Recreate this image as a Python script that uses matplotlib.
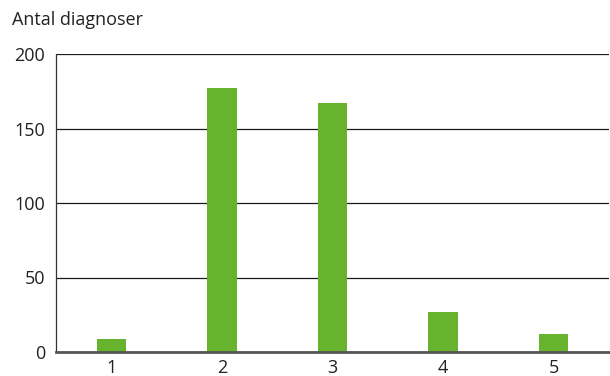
import matplotlib
matplotlib.use("Agg")
from matplotlib import pyplot as plt
import numpy as np

categories = ['1', '2', '3', '4', '5']
diagnoser = [9, 177, 167, 27, 12]
y_ticks = [0, 50, 100, 150, 200]

plt.rcParams['font.family'] = ['Open Sans', 'DejaVu Sans']

fig = plt.figure(figsize=(6.10, 3.76), dpi=100)
ax = fig.add_axes([56 / 610, 24 / 376, 553 / 610, 298 / 376])

x = np.arange(len(categories))
ax.bar(x, diagnoser, width=0.265, color='#67b32e', zorder=3)

ax.set_xlim(-0.5, len(categories) - 0.5)
ax.set_ylim(0, 200)
ax.set_xticks(x)
ax.set_xticklabels(categories)
ax.set_yticks(y_ticks)

ax.yaxis.grid(True, color='#1a1a1a', linewidth=0.9, zorder=1)
ax.set_axisbelow(True)

for side in ['top', 'right']:
    ax.spines[side].set_visible(False)
ax.spines['left'].set_color('#333333')
ax.spines['left'].set_linewidth(0.9)
ax.spines['bottom'].set_color('#555555')
ax.spines['bottom'].set_linewidth(2)
ax.spines['bottom'].set_zorder(4)

ax.tick_params(axis='both', length=0, labelsize=13, colors='#222222')
ax.tick_params(axis='y', pad=8)
ax.tick_params(axis='x', pad=5)

fig.text(12 / 610, 1 - 20 / 376, 'Antal diagnoser', fontsize=13,
         color='#222222', va='center', ha='left')

fig.savefig('out.png', dpi=100)
